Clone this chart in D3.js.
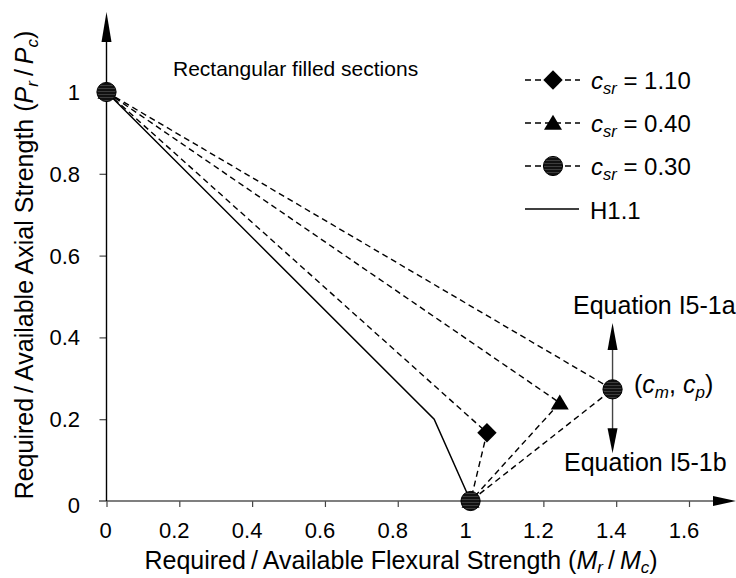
<!DOCTYPE html>
<html><head><meta charset="utf-8">
<script src="https://cdn.jsdelivr.net/npm/d3@7"></script>
<style>
html,body{margin:0;padding:0;background:#fff;}
text{font-family:"Liberation Sans",Arial,sans-serif;fill:#000;}
</style></head>
<body>
<svg id="chart" width="736" height="578"></svg>
<script>
// ---- data ----
const xTicks = [0, 0.2, 0.4, 0.6, 0.8, 1, 1.2, 1.4, 1.6];
const yTicks = [0, 0.2, 0.4, 0.6, 0.8, 1];
const xTickLabels = ["0", "0.2", "0.4", "0.6", "0.8", "1", "1.2", "1.4", "1.6"];
const yTickLabels = ["0", "0.2", "0.4", "0.6", "0.8", "1"];
const seriesNames = ["1.10", "0.40", "0.30"];
const seriesMarkers = ["diamond", "triangle", "circle"];
const seriesX = [[0, 1.045, 1], [0, 1.245, 1], [0, 1.39, 1]];
const seriesY = [[1, 0.167, 0], [1, 0.24, 0], [1, 0.273, 0]];
const h11X = [0, 0.9, 1];
const h11Y = [1, 0.2, 0];
const arrowX = 1.39;
const arrowUpY = 0.435;
const arrowDownY = 0.117;

const svg = d3.select("#chart");
const x = d3.scaleLinear().domain([0, 1.6]).range([106.5, 689]);
const y = d3.scaleLinear().domain([0, 1]).range([501, 92]);

const defs = svg.append("defs");
const pat = defs.append("pattern").attr("id", "stripes").attr("patternUnits", "userSpaceOnUse")
  .attr("width", 6).attr("height", 3);
pat.append("rect").attr("width", 6).attr("height", 3).attr("fill", "#111");
pat.append("rect").attr("y", 1).attr("width", 6).attr("height", 0.8).attr("fill", "#484848");

function marker(g, type, cx, cy) {
  if (type === "diamond") {
    const r = 9.7;
    g.append("path").attr("d", `M${cx},${cy - r}L${cx + r},${cy}L${cx},${cy + r}L${cx - r},${cy}Z`)
      .attr("fill", "#000");
  } else if (type === "triangle") {
    const w = 9, h = 15;
    g.append("path").attr("d", `M${cx},${cy - h * 0.55}L${cx + w},${cy + h * 0.45}L${cx - w},${cy + h * 0.45}Z`)
      .attr("fill", "#000");
  } else {
    g.append("circle").attr("cx", cx).attr("cy", cy).attr("r", 9.6)
      .attr("fill", "url(#stripes)").attr("stroke", "#000").attr("stroke-width", 1);
  }
}

// ---- axes ----
const axX = svg.append("g").attr("transform", `translate(0,${y(0)})`)
  .call(d3.axisBottom(x).tickValues(xTicks).tickSize(6).tickFormat(""));
axX.select(".domain").remove();
axX.selectAll(".tick line").attr("stroke", "#444").attr("stroke-width", 1.2);
svg.append("line").attr("x1", 99).attr("x2", 716).attr("y1", y(0)).attr("y2", y(0))
  .attr("stroke", "#555").attr("stroke-width", 1.6);
svg.append("path").attr("d", `M736,${y(0)}L713,${y(0) - 5}L713,${y(0) + 5}Z`).attr("fill", "#000");

const axY = svg.append("g").attr("transform", `translate(${x(0)},0)`)
  .call(d3.axisLeft(y).tickValues(yTicks.slice(1)).tickSize(7).tickFormat(""));
axY.select(".domain").remove();
axY.selectAll(".tick line").attr("stroke", "#444").attr("stroke-width", 1.2);
svg.append("line").attr("x1", x(0)).attr("x2", x(0)).attr("y1", y(0)).attr("y2", 35)
  .attr("stroke", "#000").attr("stroke-width", 1.4);
svg.append("path").attr("d", `M${x(0)},12L${x(0) + 5},42L${x(0) - 5},42Z`).attr("fill", "#000");

// tick labels
svg.append("g").selectAll("text").data(xTicks).join("text")
  .attr("x", d => x(d) - (d === 0 ? 1 : 5)).attr("y", 538).attr("text-anchor", "middle")
  .attr("font-size", 22).text((d, i) => xTickLabels[i]);
svg.append("g").selectAll("text").data(yTicks).join("text")
  .attr("x", 80).attr("y", d => y(d) + 8 + (d === 0 ? 4 : 0)).attr("text-anchor", "end")
  .attr("font-size", 22).text((d, i) => yTickLabels[i]);

// axis titles
const xt = svg.append("text").attr("x", 401).attr("y", 569).attr("text-anchor", "middle").attr("font-size", 25);
xt.append("tspan").text("Required\u2009/\u2009Available Flexural Strength (");
xt.append("tspan").attr("font-style", "italic").text("M");
xt.append("tspan").attr("font-style", "italic").attr("font-size", 17).attr("dy", 4).text("r");
xt.append("tspan").attr("dy", -4).text("\u2009/\u2009");
xt.append("tspan").attr("font-style", "italic").text("M");
xt.append("tspan").attr("font-style", "italic").attr("font-size", 17).attr("dy", 4).text("c");
xt.append("tspan").attr("dy", -4).text(")");

const yt = svg.append("text").attr("transform", "translate(33,265) rotate(-90)").attr("text-anchor", "middle").attr("font-size", 25);
yt.append("tspan").text("Required\u2009/\u2009Available Axial Strength (");
yt.append("tspan").attr("font-style", "italic").text("P");
yt.append("tspan").attr("font-style", "italic").attr("font-size", 17).attr("dy", 5).text("r");
yt.append("tspan").attr("dy", -5).text("\u2009/\u2009");
yt.append("tspan").attr("font-style", "italic").text("P");
yt.append("tspan").attr("font-style", "italic").attr("font-size", 17).attr("dy", 5).text("c");
yt.append("tspan").attr("dy", -5).text(")");

// title
svg.append("text").attr("x", 173).attr("y", 76).attr("font-size", 21).text("Rectangular filled sections");

// ---- lines ----
const line = d3.line().x(d => x(d[0])).y(d => y(d[1]));
svg.append("path").datum(h11X.map((v, i) => [v, h11Y[i]])).attr("d", line)
  .attr("fill", "none").attr("stroke", "#000").attr("stroke-width", 1.5);
seriesX.forEach((xs, s) => {
  svg.append("path").datum(xs.map((v, i) => [v, seriesY[s][i]])).attr("d", line)
    .attr("fill", "none").attr("stroke", "#000").attr("stroke-width", 1.4).attr("stroke-dasharray", "6,4");
});

// arrows at (cm, cp)
const ag = svg.append("g");
ag.append("line").attr("x1", x(arrowX)).attr("x2", x(arrowX)).attr("y1", y(arrowUpY) + 20).attr("y2", y(arrowDownY) - 20)
  .attr("stroke", "#444").attr("stroke-width", 1.4);
ag.append("path").attr("d", `M${x(arrowX)},${y(arrowUpY)}L${x(arrowX) + 5},${y(arrowUpY) + 27}L${x(arrowX) - 5},${y(arrowUpY) + 27}Z`).attr("fill", "#000");
ag.append("path").attr("d", `M${x(arrowX)},${y(arrowDownY)}L${x(arrowX) + 5},${y(arrowDownY) - 25}L${x(arrowX) - 5},${y(arrowDownY) - 25}Z`).attr("fill", "#000");

// ---- markers ----
seriesX.forEach((xs, s) => {
  const g = svg.append("g");
  xs.forEach((v, i) => marker(g, seriesMarkers[s], x(v), y(seriesY[s][i])));
});

// annotations
svg.append("text").attr("x", 573).attr("y", 314).attr("font-size", 25).text("Equation I5-1a");
svg.append("text").attr("x", 564).attr("y", 471).attr("font-size", 25).text("Equation I5-1b");
const cm = svg.append("text").attr("x", 634).attr("y", 393).attr("font-size", 25);
cm.append("tspan").text("(");
cm.append("tspan").attr("font-style", "italic").text("c");
cm.append("tspan").attr("font-style", "italic").attr("font-size", 17).attr("dy", 5).text("m");
cm.append("tspan").attr("dy", -5).text(", ");
cm.append("tspan").attr("font-style", "italic").text("c");
cm.append("tspan").attr("font-style", "italic").attr("font-size", 17).attr("dy", 5).text("p");
cm.append("tspan").attr("dy", -5).text(")");

// ---- legend ----
const legRows = [80, 123, 166, 209];
const lg = svg.append("g");
seriesNames.forEach((nm, i) => {
  const cy = legRows[i];
  lg.append("line").attr("x1", 525).attr("x2", 580).attr("y1", cy).attr("y2", cy)
    .attr("stroke", "#000").attr("stroke-width", 1.4).attr("stroke-dasharray", "6,4");
  marker(lg, seriesMarkers[i], 553, cy);
  const t = lg.append("text").attr("x", 591).attr("y", cy + 9).attr("font-size", 24);
  t.append("tspan").attr("font-style", "italic").text("c");
  t.append("tspan").attr("font-style", "italic").attr("font-size", 16.5).attr("dy", 5).text("sr");
  t.append("tspan").attr("dy", -5).text(" = " + nm);
});
lg.append("line").attr("x1", 525).attr("x2", 579).attr("y1", legRows[3]).attr("y2", legRows[3])
  .attr("stroke", "#000").attr("stroke-width", 1.5);
lg.append("text").attr("x", 590).attr("y", legRows[3] + 10).attr("font-size", 24).text("H1.1");
</script>
</body></html>
